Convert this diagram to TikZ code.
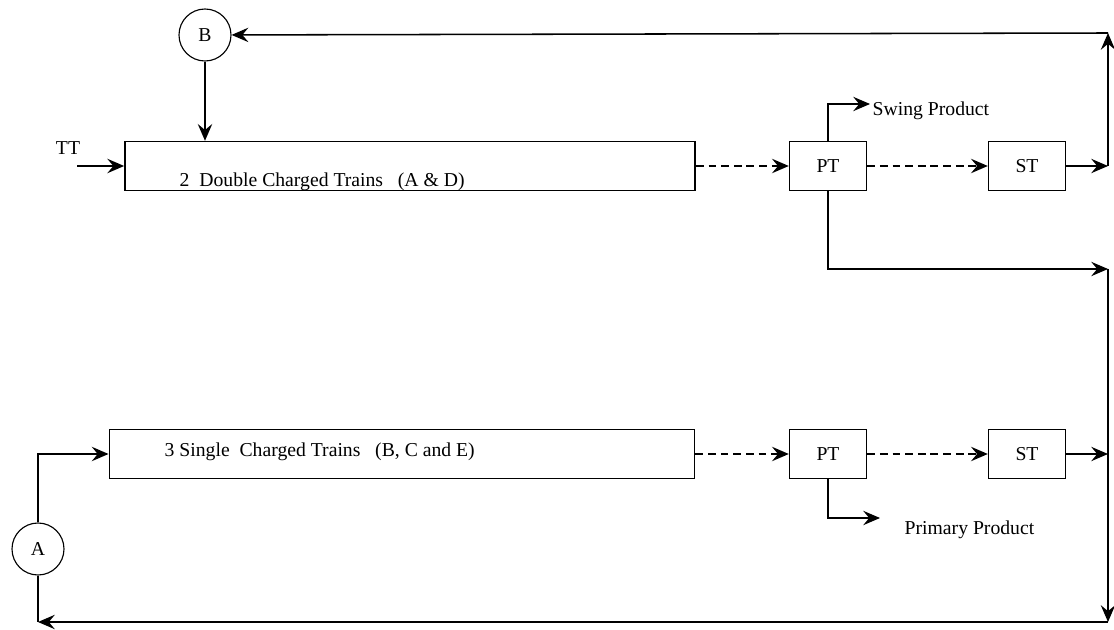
\documentclass[tikz,border=0pt]{standalone}
\usepackage{fontspec}
\setmainfont{Liberation Serif}
\usetikzlibrary{arrows.meta,positioning}
\tikzset{
  >={Stealth[length=4.2mm,width=3.6mm,inset=1.5mm]},
  flow/.style={->, line width=1.1pt, draw=black},
  flowdash/.style={flow, dash pattern=on 5.5pt off 3.5pt},
  line/.style={line width=1.1pt, draw=black},
  trainbox/.style={draw, line width=1.1pt, minimum height=1.22cm, inner sep=0pt},
  unitbox/.style={draw, line width=1.1pt, minimum width=1.92cm, minimum height=1.22cm, inner sep=0pt},
  joint/.style={draw, circle, line width=0.8pt, minimum size=1.3cm, inner sep=0pt},
  plain/.style={inner sep=1pt}
}
\begin{document}
\begin{tikzpicture}[x=0.025cm, y=-0.025cm, every node/.style={font=\fontsize{14}{16}\selectfont}]
  \useasboundingbox (0,0) rectangle (1114,630);

  % Double charged line
  \node[joint] (b) at (205,35) {B};
  \node[trainbox,minimum width=14.25cm] (dbl) at (410,166) {};
  \node[plain,anchor=west] (dbltxt) at (178,182) {2~~Double Charged Trains~~~(A \& D)};
  \node[unitbox] (pt1) at (828,166) {PT};
  \node[unitbox] (st1) at (1027,166) {ST};
  \node[plain] (tt) at (68,148) {TT};
  \node[plain,anchor=west] (swing) at (871,111) {Swing Product};

  % Single charged line
  \node[joint] (a) at (38,549) {A};
  \node[trainbox,minimum width=14.63cm] (sgl) at (402,454) {};
  \node[plain,anchor=west] (sgltxt) at (163,452) {3 Single~~Charged Trains~~~(B, C and E)};
  \node[unitbox] (pt2) at (828,454) {PT};
  \node[unitbox] (st2) at (1027,454) {ST};
  \node[plain,anchor=west] (primary) at (903,530) {Primary Product};

  % Return line
  \coordinate (ttin) at (77,166);
  \coordinate (swingend) at (870,104);
  \coordinate (rt) at (1108,166);
  \coordinate (rtop) at (1108,33);
  \coordinate (rmid) at (1108,269);
  \coordinate (rlow) at (1108,454);
  \coordinate (rbot) at (1108,622);
  \coordinate (lbot) at (38,622);
  \coordinate (primend) at (880,518);

  % Upper path
  \draw[flow] (b) -- (b |- dbl.north);
  \draw[flow] (ttin) -- (dbl);
  \draw[flowdash] (dbl) -- (pt1);
  \draw[flowdash] (pt1) -- (st1);
  \draw[flow] (pt1.north) |- (swingend);
  \draw[flow] (st1) -- (rt);
  \draw[flow] (rt) -- (rtop);
  \draw[flow] (rtop) -- (b);
  \draw[flow] (pt1.south) |- (rmid);
  \draw[flow] (rmid) -- (rbot);

  % Lower path
  \draw[flow] (a.north) |- (sgl.west);
  \draw[flowdash] (sgl) -- (pt2);
  \draw[flowdash] (pt2) -- (st2);
  \draw[flow] (st2) -- (rlow);
  \draw[flow] (pt2.south) |- (primend);
  \draw[flow] (rbot) -- (lbot);
  \draw[line] (a) -- (lbot);
\end{tikzpicture}
\end{document}
